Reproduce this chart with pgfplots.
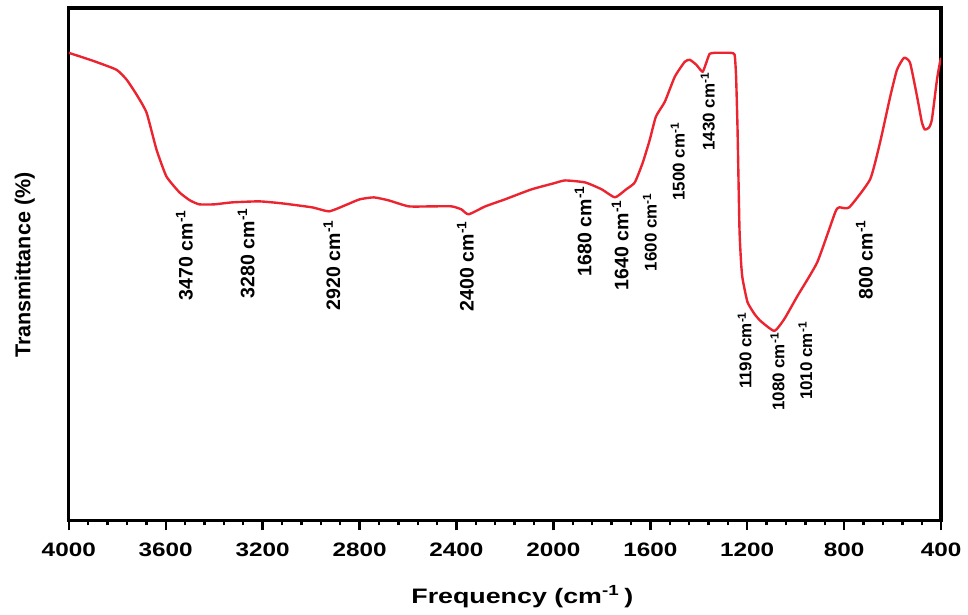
\documentclass[border=0pt]{standalone}
\usepackage{pgfplots}
\pgfplotsset{compat=1.18}
\usepackage{pgfplotstable}
\usepackage{graphicx}
\usepackage{fontspec}
\setmainfont{Liberation Sans}
\definecolor{ftir}{RGB}{235,36,48}
\newcommand{\sx}[1]{\scalebox{1.25}[1]{#1}}
\newcommand{\cm}{cm\textsuperscript{-1}}

% FTIR spectrum, wavenumber vs transmittance (arbitrary units)
\pgfplotstableread{
nu    T
4000  469
3900  461
3803  452
3761  442
3720  427
3679  409
3638  372
3597  345
3543  329
3500  321
3461  317
3400  317
3325  319
3214  320
3120  318
2996  314
2926  310
2860  316
2800  322
2741  324
2680  321
2597  315
2500  315
2420  315
2380  312
2350  307
2281  315
2200  322
2091  332
2000  338
1952  341
1869  339
1800  332
1746  324
1700  332
1664  339
1631  359
1602  382
1577  405
1540  420
1499  445
1458  460
1437  462
1410  457
1384  450
1365  462
1355  468
1335  469
1269  469
1252  467
1246  445
1240  392
1232  292
1225  257
1219  242
1199  219
1170  207
1145  200
1088  190
1047  202
993   225
911   259
837   309
820   314
779   314
693   342
652   379
610   425
582   452
553   464
528   459
499   425
479   399
467   392
450   394
438   402
417   442
405   459
400   464
}\spectrum

\begin{document}
\begin{tikzpicture}[
  lbl/.style={rotate=90, anchor=east, inner sep=0pt, font=\fontsize{9.8}{10}\selectfont\bfseries},
  sml/.style={lbl, font=\fontsize{8.5}{9}\selectfont\bfseries}]
\begin{axis}[
  scale only axis, width=437.5pt, height=257pt,
  x dir=reverse, xmin=400, xmax=4000, ymin=0, ymax=514,
  xtick={4000,3600,3200,2800,2400,2000,1600,1200,800,400},
  xticklabels={\sx{4000},\sx{3600},\sx{3200},\sx{2800},\sx{2400},\sx{2000},\sx{1600},\sx{1200},\sx{800},\sx{400}},
  minor x tick num=4,
  ytick=\empty,
  xtick pos=bottom, tick align=outside,
  major tick length=5pt, minor tick length=2.5pt,
  every tick/.style={black, line width=1.2pt},
  axis line style={line width=1.6pt},
  ticklabel style={font=\fontsize{9.75}{10}\selectfont\bfseries},
  xticklabel style={yshift=-3pt},
  clip mode=individual,
]
\addplot[ftir, line width=1.2pt, line join=round, smooth, tension=0.3] table[x=nu, y=T] {\spectrum};

\node[lbl] at (axis cs:3523,312) {3470 \cm};
\node[lbl] at (axis cs:3268,314) {3280 \cm};
\node[lbl] at (axis cs:2914,302) {2920 \cm};
\node[lbl] at (axis cs:2363,301) {2400 \cm};
\node[lbl] at (axis cs:1877,336) {1680 \cm};
\node[lbl] at (axis cs:1725,322) {1640 \cm};
\node[sml] at (axis cs:1602,329) {1600 \cm};
\node[sml] at (axis cs:1487,400) {1500 \cm};
\node[sml] at (axis cs:1363,450) {1430 \cm};
\node[sml] at (axis cs:1211,210) {1190 \cm};
\node[sml] at (axis cs:1075,189) {1080 \cm};
\node[sml] at (axis cs:960,200) {1010 \cm};
\node[lbl] at (axis cs:717,302) {800 \cm};

\node[rotate=90, font=\fontsize{10.8}{11}\selectfont\bfseries]
  at (rel axis cs:-0.0503,0.498) {Transmittance (\%)};
\node[font=\fontsize{10.5}{11}\selectfont\bfseries]
  at (rel axis cs:0.52,-0.148) {\scalebox{1.28}[1]{Frequency (cm\textsuperscript{-1}\,)}};
\end{axis}
\path ([xshift=-34.5pt,yshift=-46.5pt]current axis.south west)
  rectangle ([xshift=12pt,yshift=4pt]current axis.north east);
\end{tikzpicture}
\end{document}
